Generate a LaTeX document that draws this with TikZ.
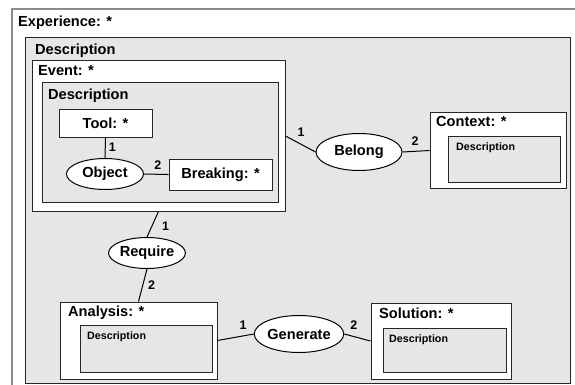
\documentclass[tikz,border=0pt]{standalone}
\usepackage{fontspec}
\setmainfont{Liberation Sans}
\usetikzlibrary{shapes.geometric}
\definecolor{panel}{HTML}{E6E6E6}
\newcommand{\bigtxt}{\bfseries\fontsize{14.6}{16}\selectfont}
\newcommand{\smltxt}{\bfseries\fontsize{10.7}{12}\selectfont}
\tikzset{
  wbox/.style={draw=black!85, line width=1pt, fill=white, inner sep=0pt, font=\bigtxt},
  gbox/.style={draw=black!85, line width=1pt, fill=panel, inner sep=0pt},
  rel/.style={ellipse, draw=black, line width=1pt, fill=white, inner sep=0pt, font=\bigtxt},
  ttl/.style={anchor=base west, inner sep=0pt, font=\bigtxt},
  sml/.style={anchor=base west, inner sep=0pt, font=\smltxt},
  num/.style={inner sep=1pt, font=\bfseries\fontsize{12.5}{14}\selectfont},
  link/.style={line width=1pt}
}

\begin{document}
\begin{tikzpicture} [x=1pt,y=-1pt]
\useasboundingbox[fill=white] (0,0) rectangle (575,385);
\begin{scope}
\clip (0,0) rectangle (575,385);
\draw[black!45, line width=1.5pt, fill=white] (12,9) rectangle (600,400);
\end{scope}
\node[ttl] (exptitle) at (18,27) {Experience: *};

% outer description
\node[gbox, minimum width=545, minimum height=345] (desc) at (297.5,210.5) {};
\node[ttl] (desctitle) at (35,55) {Description};

% event with its own description
\node[wbox, minimum width=253, minimum height=150] (event) at (158.5,136) {};
\node[ttl] (eventtitle) at (38,76) {Event: *};
\node[gbox, minimum width=236, minimum height=119] (evdesc) at (160,142.5) {};
\node[ttl] (evdesctitle) at (48,100) {Description};
\node[wbox, minimum width=93, minimum height=27] (tool) at (105.5,123.5) {Tool: *};
\node[wbox, minimum width=103, minimum height=31] (breaking) at (220.5,174.5) {Breaking: *};
\node[rel, minimum width=77, minimum height=31] (object) at (105,174) {Object};

% context
\node[wbox, minimum width=136, minimum height=75] (context) at (498,150.5) {};
\node[ttl] (contexttitle) at (436,127) {Context: *};
\node[gbox, minimum width=112, minimum height=46] (ctxdesc) at (504,159) {};
\node[sml] (ctxdesctitle) at (456,150) {Description};
\node[rel, minimum width=86, minimum height=37] (belong) at (359,152) {Belong};

% analysis and solution
\node[rel, minimum width=75, minimum height=31] (require) at (147,253) {Require};
\node[wbox, minimum width=157, minimum height=77] (analysis) at (138.5,340.5) {};
\node[ttl] (analysistitle) at (68,316) {Analysis: *};
\node[gbox, minimum width=132, minimum height=47] (andesc) at (146,348.5) {};
\node[sml] (andesctitle) at (87,339) {Description};
\node[rel, minimum width=83, minimum height=37] (generate) at (299,334) {Generate};
\node[wbox, minimum width=140, minimum height=76] (solution) at (441,341) {};
\node[ttl] (solutiontitle) at (379,318) {Solution: *};
\node[gbox, minimum width=123, minimum height=44] (soldesc) at (444.5,350) {};
\node[sml] (soldesctitle) at (389,342) {Description};

% relations
\draw[link] (tool.south) -- node[num, xshift=7pt, yshift=0.5pt] (n1) {1} (object.north);
\draw[link] (object.east) -- node[num, xshift=1.5pt, yshift=9.5pt] (n2) {2} (breaking.west);
\draw[link] (event.east) -- node[num, xshift=0.5pt, yshift=12pt] (n3) {1} (belong.west);
\draw[link] (belong.east) -- node[num, xshift=-1pt, yshift=10pt] (n4) {2} (context.west);
\draw[link] (event.south) -- node[num, xshift=12.75pt, yshift=-2.25pt] (n5) {1} (require.north);
\draw[link] (require.south) -- node[num, xshift=8.75pt] (n6) {2} (analysis.north);
\draw[link] (analysis.east) -- node[num, xshift=7.5pt, yshift=12pt] (n7) {1} (generate.west);
\draw[link] (generate.east) -- node[num, xshift=-3.5pt, yshift=12.5pt] (n8) {2} (solution.west);
\end{tikzpicture}
\end{document}
